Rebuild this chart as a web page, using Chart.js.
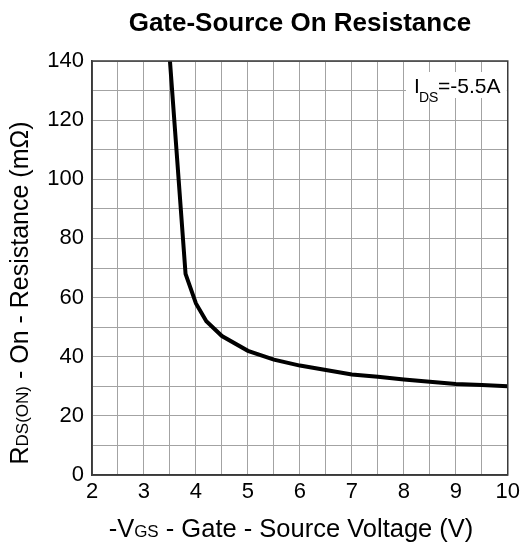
<!DOCTYPE html>
<html>
<head>
<meta charset="utf-8">
<script src="https://cdn.jsdelivr.net/npm/chart.js@4.4.1/dist/chart.umd.min.js"></script>
<style>
  html, body { margin: 0; padding: 0; background: #fff; }
  #wrap { width: 524px; height: 545px; }
</style>
</head>
<body>
<div id="wrap"><canvas id="rdsChart"></canvas></div>
<script>
// Data
const vgs = [3.5, 3.8, 4.0, 4.2, 4.5, 5.0, 5.5, 6.0, 6.5, 7.0, 7.5, 8.0, 8.5, 9.0, 9.5, 10.0];
const rdsOn = [140, 68, 58, 52, 47, 42, 39, 37, 35.5, 34, 33.2, 32.3, 31.5, 30.8, 30.4, 30];

const xRange = [2, 10];
const yRange = [0, 140];
const xLabelStep = 1;
const yLabelStep = 20;

const FONT = "'Liberation Sans', Arial, sans-serif";

// draw a line of text made of parts with different sizes / offsets
function drawRich(ctx, parts, cx, cy, angle) {
    ctx.save();
    ctx.translate(cx, cy);
    ctx.rotate(angle);
    let total = 0;
    parts.forEach(p => {
        ctx.font = `${p.size}px ${FONT}`;
        p.w = ctx.measureText(p.text).width;
        total += p.w;
    });
    let x = -total / 2;
    ctx.fillStyle = '#000';
    ctx.textBaseline = 'alphabetic';
    ctx.textAlign = 'left';
    parts.forEach(p => {
        ctx.font = `${p.size}px ${FONT}`;
        ctx.fillText(p.text, x, p.dy || 0);
        x += p.w;
    });
    ctx.restore();
}

const extras = {
    id: 'extras',
    afterDraw(chart) {
        const ctx = chart.ctx;
        const a = chart.chartArea;

        // frame
        ctx.save();
        ctx.strokeStyle = '#3a3a3a';
        ctx.lineWidth = 1.5;
        ctx.strokeRect(a.left, a.top, a.right - a.left, a.bottom - a.top);
        ctx.restore();

        // condition label with white box
        ctx.save();
        ctx.fillStyle = '#fff';
        ctx.fillRect(406, 72, a.right - 407, 26);
        ctx.restore();
        ctx.save();
        ctx.fillStyle = '#000';
        ctx.textBaseline = 'alphabetic';
        ctx.font = `21px ${FONT}`;
        ctx.fillText('I', 414, 93);
        ctx.font = `14px ${FONT}`;
        ctx.fillText('DS', 419, 102);
        ctx.font = `21px ${FONT}`;
        ctx.fillText('=-5.5A', 438, 93);
        ctx.restore();

        // axis titles
        drawRich(ctx, [
            { text: '-V', size: 25.5 },
            { text: 'GS', size: 17 },
            { text: ' - Gate - Source Voltage (V)', size: 25.5 }
        ], 291, 537, 0);

        drawRich(ctx, [
            { text: 'R', size: 25 },
            { text: 'DS(ON)', size: 17 },
            { text: ' - On - Resistance (m\u03A9)', size: 25 }
        ], 28, 293, -Math.PI / 2);
    }
};

document.addEventListener('DOMContentLoaded', function () {
    Chart.defaults.font.family = FONT;
    Chart.defaults.color = '#000';

    const points = vgs.map((v, i) => ({ x: v, y: rdsOn[i] }));

    new Chart(document.getElementById('rdsChart').getContext('2d'), {
        type: 'line',
        data: {
            datasets: [{
                label: 'RDS(ON)',
                data: points,
                borderColor: '#000',
                borderWidth: 4,
                pointRadius: 0,
                tension: 0,
                fill: false
            }]
        },
        options: {
            responsive: true,
            maintainAspectRatio: false,
            animation: false,
            layout: { padding: { left: 38, right: 16, top: 0, bottom: 0 } },
            plugins: {
                legend: { display: false },
                tooltip: { enabled: false },
                title: {
                    display: true,
                    text: 'Gate-Source On Resistance',
                    fullSize: false,
                    color: '#000',
                    font: { size: 26, weight: 'bold' },
                    padding: { top: 8, bottom: 21.8 }
                }
            },
            scales: {
                x: {
                    type: 'linear',
                    min: xRange[0],
                    max: xRange[1],
                    afterFit: s => { s.height = 70; },
                    grid: { color: '#a3a3a3', lineWidth: 1, drawTicks: false },
                    border: { color: '#3a3a3a', width: 1.5 },
                    ticks: {
                        stepSize: 0.5,
                        padding: 4,
                        maxRotation: 0,
                        autoSkip: false,
                        font: { size: 22 },
                        color: '#000',
                        callback: v => (v % xLabelStep === 0 ? String(v) : '')
                    }
                },
                y: {
                    min: yRange[0],
                    max: yRange[1],
                    afterFit: s => { s.width = 54; },
                    grid: { color: '#a3a3a3', lineWidth: 1, drawTicks: false },
                    border: { color: '#3a3a3a', width: 1.5 },
                    ticks: {
                        stepSize: 10,
                        padding: 8,
                        autoSkip: false,
                        font: { size: 22 },
                        color: '#000',
                        callback: v => (v % yLabelStep === 0 ? String(v) : '')
                    }
                }
            }
        },
        plugins: [extras]
    });
});
</script>
</body>
</html>
